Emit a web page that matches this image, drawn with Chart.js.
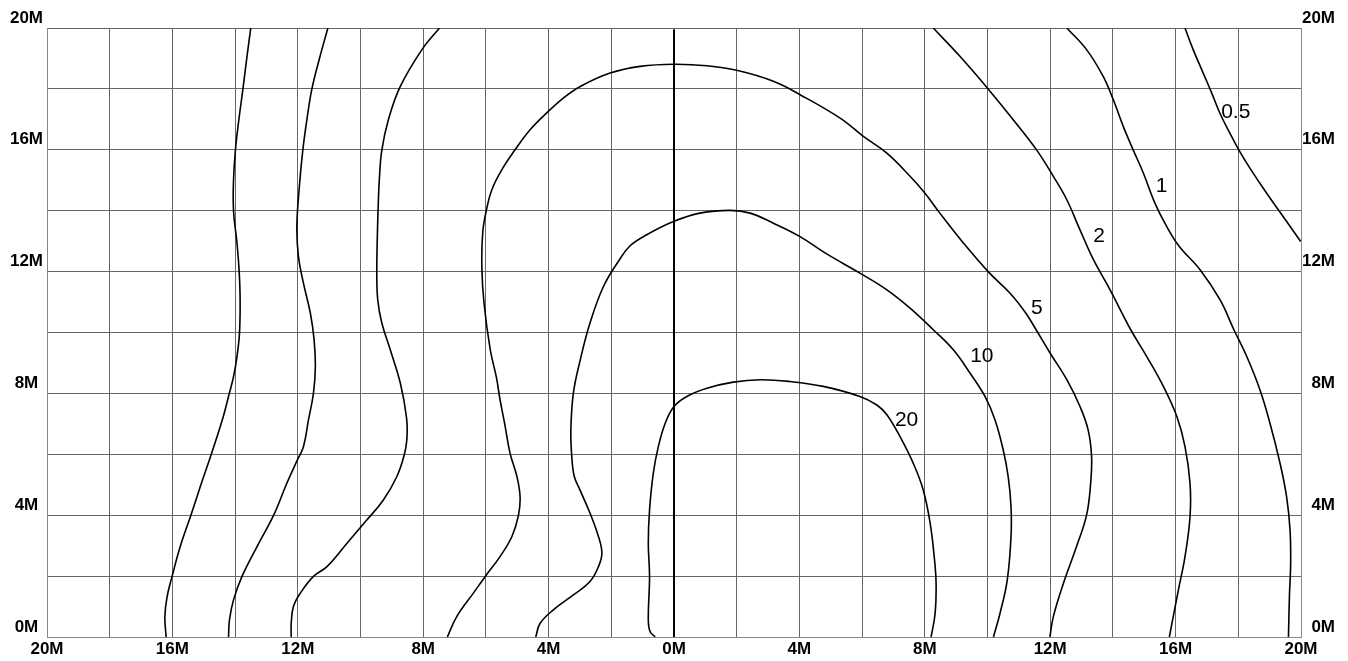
<!DOCTYPE html>
<html>
<head>
<meta charset="utf-8">
<script src="https://cdn.jsdelivr.net/npm/chart.js@4/dist/chart.umd.min.js"></script>
<style>
  html, body { margin: 0; padding: 0; background: #fff; }
  #wrap { width: 1348px; height: 661px; }
</style>
</head>
<body>
<div id="wrap"><canvas id="contourChart"></canvas></div>
<script>
// axis labels
const xLabelValues = [-20, -16, -12, -8, -4, 0, 4, 8, 12, 16, 20];
const yLabelValues = [0, 4, 8, 12, 16, 20];

// contour lines (x, y in M)
const contour05Left = [
    [-13.50, 20], [-13.62, 19.07], [-13.75, 18.0], [-13.88, 16.99], [-13.99, 15.99],
    [-14.05, 15.0], [-14.05, 14.0], [-13.94, 12.94], [-13.87, 12.0], [-13.84, 11.07],
    [-13.86, 9.98], [-13.94, 9.21], [-14.05, 8.55], [-14.21, 7.90], [-14.39, 7.19],
    [-14.76, 6.0], [-15.11, 4.94], [-15.41, 4.0], [-15.75, 2.97], [-16.01, 1.99],
    [-16.17, 1.32], [-16.24, 0.67], [-16.20, 0]
];
const contour05Right = [
    [16.30, 20], [16.56, 19.29], [16.88, 18.52], [17.15, 17.87], [17.41, 17.21],
    [17.73, 16.55], [18.02, 15.99], [18.37, 15.40], [18.90, 14.58], [19.43, 13.81],
    [19.99, 12.99]
];
const contour1Left = [
    [-11.04, 20], [-11.29, 19.07], [-11.55, 18.0], [-11.71, 16.99], [-11.84, 15.99],
    [-11.95, 14.8], [-12.03, 13.48], [-11.98, 12.50], [-11.82, 11.62], [-11.60, 10.64],
    [-11.48, 9.76], [-11.44, 8.88], [-11.50, 8.01], [-11.66, 7.13], [-11.82, 6.25],
    [-12.02, 5.80], [-12.35, 5.05], [-12.77, 4.0], [-13.30, 2.97], [-13.78, 1.99],
    [-14.05, 1.22], [-14.18, 0.56], [-14.21, 0]
];
const contour1Right = [
    [12.53, 20], [13.16, 19.29], [13.69, 18.41], [14.01, 17.65], [14.33, 16.77],
    [14.65, 15.99], [14.97, 15.24], [15.34, 14.25], [15.68, 13.55], [16.10, 12.85],
    [16.78, 12.06], [17.42, 11.07], [17.86, 10.09], [18.27, 9.21], [18.69, 8.12],
    [19.01, 7.02], [19.33, 5.71], [19.54, 4.61], [19.65, 3.52], [19.67, 2.42],
    [19.63, 1.32], [19.60, 0]
];
const contour2Left = [
    [-7.48, 20], [-8.04, 19.29], [-8.73, 18.08], [-9.11, 16.99], [-9.32, 15.99],
    [-9.40, 15.02], [-9.43, 14.3], [-9.46, 13.27], [-9.48, 11.95], [-9.45, 11.07],
    [-9.32, 10.31], [-9.05, 9.43], [-8.73, 8.34], [-8.53, 7.19], [-8.52, 6.5],
    [-8.60, 6.0], [-8.84, 5.27], [-9.27, 4.50], [-9.80, 3.84], [-10.43, 3.08],
    [-11.07, 2.31], [-11.50, 1.99], [-11.92, 1.44], [-12.14, 1.00], [-12.21, 0.45],
    [-12.21, 0]
];
const contour2Right = [
    [8.27, 20], [9.12, 19.07], [10.02, 18.0], [10.82, 16.99], [11.57, 15.99],
    [12.10, 15.13], [12.53, 14.36], [12.95, 13.37], [13.38, 12.39], [13.91, 11.40],
    [14.57, 10.09], [15.08, 9.21], [15.61, 8.23], [16.04, 7.24], [16.30, 6.25],
    [16.46, 5.05], [16.46, 3.95], [16.30, 2.64], [16.09, 1.55], [15.80, 0]
];
const contour5 = [
    [-7.23, 0], [-6.93, 0.67], [-6.40, 1.44], [-6.02, 1.99], [-5.55, 2.64],
    [-5.17, 3.30], [-4.96, 4.0], [-4.91, 4.61], [-5.01, 5.27], [-5.23, 6.04],
    [-5.40, 7.0], [-5.55, 7.8], [-5.66, 8.5], [-5.86, 9.43], [-6.06, 10.97],
    [-6.13, 12.17], [-6.10, 13.3], [-5.99, 13.99], [-5.81, 14.69], [-5.49, 15.35],
    [-5.07, 16.0], [-4.59, 16.66], [-4.01, 17.26], [-3.53, 17.70], [-2.99, 18.08],
    [-2.04, 18.52], [-1.08, 18.74], [0, 18.81], [1.05, 18.76], [2.0, 18.61],
    [3.17, 18.25], [4.02, 17.81], [5.30, 17.04], [6.04, 16.44], [6.79, 15.89],
    [7.53, 15.13], [8.0, 14.58], [8.48, 13.92], [9.23, 12.94], [10.02, 12.0],
    [10.72, 11.29], [11.22, 10.64], [11.55, 10.09], [12.0, 9.32], [12.53, 8.45],
    [12.95, 7.57], [13.21, 6.80], [13.32, 5.92], [13.29, 5.05], [13.16, 4.0],
    [12.84, 2.97], [12.42, 1.76], [12.10, 0.67], [11.99, 0]
];
const contour10 = [
    [-4.41, 0], [-4.27, 0.45], [-3.85, 0.89], [-3.21, 1.38], [-2.68, 1.82],
    [-2.41, 2.31], [-2.30, 2.75], [-2.41, 3.30], [-2.68, 4.07], [-3.0, 4.83],
    [-3.18, 5.27], [-3.26, 5.92], [-3.29, 6.80], [-3.21, 8.01], [-2.99, 9.10],
    [-2.68, 10.31], [-2.25, 11.51], [-1.74, 12.39], [-1.40, 12.85], [-0.87, 13.21],
    [0, 13.65], [0.83, 13.92], [1.79, 14.01], [2.43, 13.92], [3.17, 13.59],
    [4.02, 13.15], [4.87, 12.58], [5.93, 11.95], [6.79, 11.40], [7.53, 10.80],
    [8.27, 10.09], [8.91, 9.43], [9.44, 8.67], [9.92, 7.90], [10.24, 7.13],
    [10.50, 6.15], [10.66, 5.27], [10.75, 4.28], [10.75, 3.30], [10.63, 1.87],
    [10.40, 0.78], [10.19, 0]
];
const contour20 = [
    [-0.60, 0], [-0.76, 0.17], [-0.82, 0.56], [-0.78, 1.98], [-0.82, 3.08],
    [-0.78, 4.17], [-0.66, 5.38], [-0.50, 6.25], [-0.28, 7.02], [0, 7.57],
    [0.41, 7.90], [1.05, 8.17], [1.89, 8.37], [2.75, 8.45], [3.70, 8.39],
    [4.76, 8.23], [5.93, 7.90], [6.47, 7.62], [6.79, 7.30], [7.21, 6.58],
    [7.63, 5.71], [7.95, 4.83], [8.17, 3.74], [8.30, 2.64], [8.36, 1.76],
    [8.33, 0.78], [8.20, 0]
];
const centerLine = [[0, 19.95], [0, 0]];

// contour value labels: [text, x, y]
const contourLabels = [
    ['0.5', 17.92, 17.24],
    ['1', 15.55, 14.8],
    ['2', 13.56, 13.16],
    ['5', 11.57, 10.80],
    ['10', 9.82, 9.21],
    ['20', 7.42, 7.13]
];

const lines = [
    contour05Left, contour05Right, contour1Left, contour1Right,
    contour2Left, contour2Right, contour5, contour10, contour20
];

function toPoints(arr) {
    return arr.map(p => ({ x: p[0], y: p[1] }));
}

const datasets = lines.map(arr => ({
    data: toPoints(arr),
    showLine: true,
    borderColor: '#000',
    borderWidth: 1.6,
    pointRadius: 0,
    tension: 0.4,
    fill: false
}));
datasets.push({
    data: toPoints(centerLine),
    showLine: true,
    borderColor: '#000',
    borderWidth: 2,
    pointRadius: 0,
    tension: 0
});

const labelPlugin = {
    id: 'contourLabels',
    afterDatasetsDraw(chart) {
        const ctx = chart.ctx;
        const xs = chart.scales.x, ys = chart.scales.y;
        ctx.save();
        ctx.font = '21px "Liberation Sans", Arial, sans-serif';
        ctx.fillStyle = '#000';
        ctx.textAlign = 'center';
        ctx.textBaseline = 'middle';
        contourLabels.forEach(l => {
            ctx.fillText(l[0], xs.getPixelForValue(l[1]), ys.getPixelForValue(l[2]));
        });
        ctx.restore();
    }
};

const tickFont = { family: '"Liberation Sans", Arial, sans-serif', size: 17, weight: 'bold' };

function mLabel(v, list) {
    return list.includes(v) ? Math.abs(v) + 'M' : '';
}

new Chart(document.getElementById('contourChart'), {
    type: 'scatter',
    data: { datasets: datasets },
    options: {
        responsive: true,
        maintainAspectRatio: false,
        animation: false,
        events: [],
        layout: { padding: { top: 28, right: 13, bottom: 0, left: 0 } },
        plugins: { legend: { display: false }, tooltip: { enabled: false } },
        scales: {
            x: {
                type: 'linear',
                min: -20, max: 20,
                afterFit: s => { s.height = 24; },
                ticks: {
                    stepSize: 2,
                    autoSkip: false,
                    maxRotation: 0,
                    padding: 2,
                    color: '#000',
                    font: tickFont,
                    callback: v => mLabel(v, xLabelValues)
                },
                grid: { color: '#666', lineWidth: 1, drawTicks: false },
                border: { color: '#888' }
            },
            y: {
                type: 'linear',
                position: 'left',
                min: 0, max: 20,
                afterFit: s => { s.width = 47; },
                ticks: {
                    stepSize: 2,
                    autoSkip: false,
                    padding: 4,
                    labelOffset: -10,
                    crossAlign: 'center',
                    color: '#000',
                    font: tickFont,
                    callback: v => mLabel(v, yLabelValues)
                },
                grid: { color: '#666', lineWidth: 1, drawTicks: false },
                border: { color: '#888' }
            },
            y2: {
                type: 'linear',
                position: 'right',
                min: 0, max: 20,
                afterFit: s => { s.width = 34; },
                ticks: {
                    stepSize: 2,
                    autoSkip: false,
                    padding: 4,
                    labelOffset: -10,
                    crossAlign: 'far',
                    color: '#000',
                    font: tickFont,
                    callback: v => mLabel(v, yLabelValues)
                },
                grid: { display: false, drawTicks: false },
                border: { color: '#888' }
            }
        }
    },
    plugins: [labelPlugin]
});
</script>
</body>
</html>
